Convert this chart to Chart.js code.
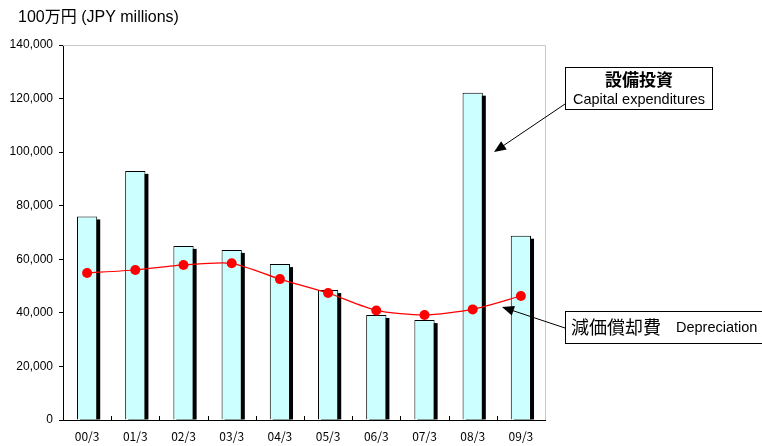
<!DOCTYPE html>
<html lang="ja">
  <head>
    <meta charset="UTF-8" />
    <title>設備投資・減価償却費</title>
    <script src="https://cdn.jsdelivr.net/npm/chart.js"></script>
    <style>
      html, body { margin: 0; padding: 0; background: #fff; overflow: hidden; }
      canvas { display: block; }
    </style>
  </head>
  <body>
    <canvas id="capexChart" width="762" height="446"></canvas>
    <script>
      // data
      const periods = ["00/3", "01/3", "02/3", "03/3", "04/3", "05/3", "06/3", "07/3", "08/3", "09/3"];
      const capex = [76000, 93000, 65000, 63500, 58200, 48500, 39200, 37300, 122200, 68800];
      const depreciation = [54900, 56000, 57900, 58500, 52600, 47400, 40900, 39200, 41300, 46300];
      const yMax = 140000;
      const yStep = 20000;

      const jpFont = "'Liberation Sans', 'Noto Sans CJK JP', sans-serif";

      // black drop shadow behind the bars (bar element clips its own shadow, so paint it here)
      const barShadow = {
        id: "barShadow",
        beforeDatasetDraw(chart, args) {
          if (args.index !== 0) return;
          const ctx = chart.ctx;
          const meta = chart.getDatasetMeta(0);
          ctx.save();
          ctx.fillStyle = "#000";
          meta.data.forEach((bar) => {
            const { x, y, base, width } = bar.getProps(["x", "y", "base", "width"], true);
            ctx.fillRect(x - width / 2 + 3, y + 3, width, base - y - 3);
          });
          ctx.restore();
        },
      };

      function arrow(ctx, x1, y1, x2, y2) {
        const a = Math.atan2(y2 - y1, x2 - x1);
        const len = 12, w = 5;
        ctx.beginPath();
        ctx.moveTo(x1, y1);
        ctx.lineTo(x2 - Math.cos(a) * len * 0.8, y2 - Math.sin(a) * len * 0.8);
        ctx.stroke();
        ctx.beginPath();
        ctx.moveTo(x2, y2);
        ctx.lineTo(x2 - Math.cos(a) * len + Math.sin(a) * w, y2 - Math.sin(a) * len - Math.cos(a) * w);
        ctx.lineTo(x2 - Math.cos(a) * len - Math.sin(a) * w, y2 - Math.sin(a) * len + Math.cos(a) * w);
        ctx.closePath();
        ctx.fill();
      }

      // unit label, frame, inner x ticks and callout boxes
      const extras = {
        id: "extras",
        beforeDatasetsDraw(chart) {
          const { ctx, chartArea: ca } = chart;
          const xs = chart.scales.x;
          ctx.save();
          ctx.strokeStyle = "#c8c8c8";
          ctx.lineWidth = 1;
          ctx.beginPath();
          ctx.moveTo(ca.left, ca.top + 0.5);
          ctx.lineTo(ca.right + 0.5, ca.top + 0.5);
          ctx.lineTo(ca.right + 0.5, ca.bottom);
          ctx.stroke();
          ctx.strokeStyle = "#000";
          ctx.beginPath();
          for (let i = 1; i < periods.length; i++) {
            const tx = Math.round((xs.getPixelForValue(i - 1) + xs.getPixelForValue(i)) / 2) + 0.5;
            ctx.moveTo(tx, ca.bottom);
            ctx.lineTo(tx, ca.bottom - 4);
          }
          ctx.stroke();
          ctx.restore();
        },
        afterDraw(chart) {
          const ctx = chart.ctx;
          ctx.save();
          ctx.fillStyle = "#000";
          ctx.textBaseline = "middle";
          ctx.font = "16px " + jpFont;
          ctx.fillText("100万円 (JPY millions)", 18, 18);

          // capex callout
          ctx.strokeStyle = "#000";
          ctx.lineWidth = 1;
          ctx.fillStyle = "#fff";
          ctx.fillRect(565.5, 67.5, 147, 42);
          ctx.strokeRect(565.5, 67.5, 147, 42);
          ctx.fillStyle = "#000";
          ctx.textAlign = "center";
          ctx.font = "bold 17px 'Noto Sans CJK JP', sans-serif";
          ctx.fillText("設備投資", 639, 80);
          ctx.font = "14.5px 'Liberation Sans', Arial, sans-serif";
          ctx.fillText("Capital expenditures", 639, 100);
          arrow(ctx, 565, 104, 494, 152);

          // depreciation callout
          ctx.fillStyle = "#fff";
          ctx.fillRect(565.5, 311.5, 200, 32);
          ctx.strokeRect(565.5, 311.5, 200, 32);
          ctx.fillStyle = "#000";
          ctx.textAlign = "left";
          ctx.font = "18px 'Noto Sans CJK JP', sans-serif";
          ctx.fillText("減価償却費", 571, 327);
          ctx.font = "14.5px 'Liberation Sans', Arial, sans-serif";
          ctx.fillText("Depreciation", 676, 328);
          arrow(ctx, 565, 328, 502, 307);
          ctx.restore();
        },
      };

      const ctx = document.getElementById("capexChart").getContext("2d");
      new Chart(ctx, {
        type: "bar",
        data: {
          labels: periods,
          datasets: [
            {
              type: "bar",
              label: "設備投資",
              data: capex,
              backgroundColor: "#ccffff",
              borderColor: "#000",
              borderWidth: 1,
              barPercentage: 0.42,
              categoryPercentage: 1,
              order: 2,
            },
            {
              type: "line",
              label: "減価償却費",
              data: depreciation,
              borderColor: "#ff0000",
              backgroundColor: "#ff0000",
              borderWidth: 1.2,
              pointRadius: 5,
              pointBorderWidth: 0,
              tension: 0.22,
              order: 1,
            },
          ],
        },
        options: {
          responsive: false,
          animation: false,
          devicePixelRatio: 1,
          layout: { padding: { top: 45, right: 217, bottom: 0, left: 0 } },
          plugins: {
            legend: { display: false },
            tooltip: { enabled: false },
          },
          scales: {
            x: {
              grid: { display: false },
              border: { color: "#000", width: 1 },
              ticks: {
                color: "#000",
                padding: 2,
                maxRotation: 0,
                autoSkip: false,
                font: { family: "'Noto Sans CJK JP', sans-serif", size: 12, lineHeight: 1 },
              },
              afterFit(scale) { scale.height = 26; },
            },
            y: {
              min: 0,
              max: yMax,
              grid: { drawOnChartArea: false, color: "#000", tickLength: 4 },
              border: { color: "#000", width: 1 },
              ticks: {
                stepSize: yStep,
                color: "#000",
                padding: 6,
                autoSkip: false,
                font: { family: "'Liberation Sans', Arial, sans-serif", size: 12 },
              },
              afterFit(scale) { scale.width = 63; },
            },
          },
        },
        plugins: [barShadow, extras],
      });
    </script>
  </body>
</html>
